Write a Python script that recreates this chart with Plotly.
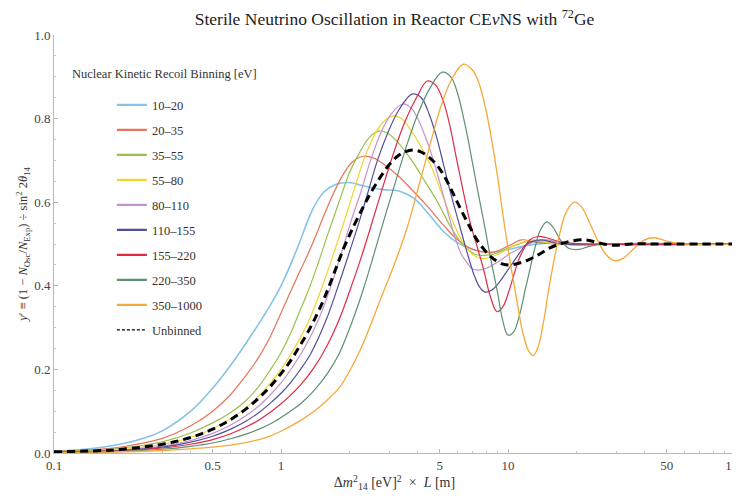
import plotly.graph_objects as go

# ---- data ----
labels = ["10\u201320", "20\u201335", "35\u201355", "55\u201380", "80\u2013110",
          "110\u2013155", "155\u2013220", "220\u2013350", "350\u20131000", "Unbinned"]

x_10_20 = [0.1, 0.15, 0.2, 0.25, 0.3, 0.4, 0.5, 0.6, 0.7, 0.8, 0.9, 1.0, 1.1, 1.2, 1.3, 1.4, 1.55, 1.75, 2.0, 2.35, 2.8, 3.3, 3.9, 4.5, 5.2, 6.0, 7.0, 8.5, 10, 12, 15, 20, 30, 50, 100]
y_10_20 = [0.004, 0.011, 0.022, 0.036, 0.053, 0.10, 0.155, 0.21, 0.262, 0.31, 0.355, 0.40, 0.45, 0.50, 0.55, 0.59, 0.625, 0.643, 0.647, 0.638, 0.63, 0.627, 0.607, 0.57, 0.53, 0.503, 0.487, 0.48, 0.487, 0.496, 0.502, 0.498, 0.50, 0.50, 0.50]

x_20_35 = [0.1, 0.15, 0.2, 0.3, 0.4, 0.5, 0.6, 0.7, 0.8, 0.9, 1.0, 1.1, 1.2, 1.3, 1.4, 1.55, 1.7, 1.85, 2.05, 2.3, 2.55, 2.75, 3.25, 3.85, 4.5, 5.2, 6.0, 7.0, 8.5, 10, 11.5, 13, 16, 20, 30, 100]
y_20_35 = [0.003, 0.008, 0.015, 0.035, 0.065, 0.10, 0.14, 0.185, 0.23, 0.28, 0.335, 0.385, 0.43, 0.47, 0.51, 0.57, 0.62, 0.66, 0.695, 0.71, 0.706, 0.696, 0.665, 0.625, 0.585, 0.545, 0.51, 0.487, 0.48, 0.495, 0.51, 0.505, 0.50, 0.498, 0.50, 0.50]

x_35_55 = [0.1, 0.15, 0.2, 0.3, 0.4, 0.5, 0.6, 0.7, 0.8, 0.9, 1.0, 1.1, 1.2, 1.3, 1.45, 1.6, 1.8, 2.0, 2.2, 2.45, 2.69, 2.95, 3.25, 3.7, 4.25, 4.9, 5.6, 6.3, 7.2, 8.5, 10, 12, 14, 18, 25, 100]
y_35_55 = [0.003, 0.007, 0.012, 0.027, 0.048, 0.072, 0.097, 0.125, 0.16, 0.20, 0.24, 0.285, 0.335, 0.38, 0.45, 0.52, 0.60, 0.67, 0.715, 0.755, 0.77, 0.765, 0.745, 0.706, 0.655, 0.60, 0.54, 0.50, 0.475, 0.475, 0.49, 0.505, 0.505, 0.50, 0.50, 0.50]

x_55_80 = [0.1, 0.15, 0.2, 0.3, 0.4, 0.5, 0.6, 0.7, 0.8, 0.9, 1.0, 1.1, 1.2, 1.33, 1.5, 1.7, 1.9, 2.1, 2.31, 2.55, 2.8, 3.1, 3.4, 3.7, 4.1, 4.55, 5.0, 5.6, 6.3, 7.0, 7.7, 9.0, 11, 13, 16, 25, 100]
y_55_80 = [0.002, 0.005, 0.009, 0.021, 0.037, 0.058, 0.082, 0.108, 0.137, 0.168, 0.20, 0.235, 0.27, 0.318, 0.39, 0.475, 0.555, 0.63, 0.70, 0.755, 0.79, 0.806, 0.80, 0.775, 0.737, 0.69, 0.634, 0.565, 0.505, 0.475, 0.465, 0.475, 0.50, 0.51, 0.50, 0.50, 0.50]

x_80_110 = [0.1, 0.15, 0.2, 0.3, 0.4, 0.5, 0.6, 0.7, 0.8, 0.9, 1.0, 1.1, 1.2, 1.3, 1.46, 1.65, 1.85, 2.05, 2.25, 2.48, 2.75, 3.05, 3.43, 3.75, 4.0, 4.3, 4.6, 4.9, 5.2, 5.5, 5.85, 6.2, 6.6, 7.0, 7.6, 8.1, 9.2, 10.2, 11.3, 13, 14.8, 17, 25, 100]
y_80_110 = [0.002, 0.004, 0.007, 0.017, 0.03, 0.047, 0.067, 0.089, 0.113, 0.14, 0.168, 0.198, 0.23, 0.262, 0.318, 0.395, 0.48, 0.56, 0.625, 0.70, 0.765, 0.81, 0.835, 0.825, 0.80, 0.76, 0.715, 0.665, 0.615, 0.565, 0.515, 0.478, 0.455, 0.44, 0.438, 0.443, 0.46, 0.477, 0.49, 0.505, 0.51, 0.503, 0.50, 0.50]

x_110_155 = [0.1, 0.15, 0.2, 0.3, 0.4, 0.5, 0.6, 0.7, 0.8, 0.9, 1.0, 1.1, 1.2, 1.35, 1.58, 1.8, 2.0, 2.2, 2.42, 2.66, 2.95, 3.3, 3.79, 4.15, 4.5, 4.85, 5.2, 5.6, 6.15, 6.6, 7.1, 7.5, 7.93, 8.5, 9.2, 9.9, 10.5, 11.3, 12.1, 13.9, 15.5, 17, 25, 100]
y_110_155 = [0.002, 0.004, 0.006, 0.014, 0.026, 0.04, 0.057, 0.076, 0.097, 0.12, 0.143, 0.168, 0.195, 0.237, 0.318, 0.405, 0.48, 0.55, 0.625, 0.70, 0.765, 0.82, 0.859, 0.85, 0.81, 0.755, 0.69, 0.62, 0.54, 0.48, 0.425, 0.397, 0.385, 0.39, 0.41, 0.435, 0.455, 0.48, 0.50, 0.51, 0.505, 0.50, 0.50, 0.50]

x_155_220 = [0.1, 0.15, 0.2, 0.3, 0.4, 0.5, 0.6, 0.7, 0.8, 0.9, 1.0, 1.1, 1.22, 1.4, 1.6, 1.8, 2.0, 2.2, 2.45, 2.75, 3.1, 3.5, 3.95, 4.41, 4.8, 5.2, 5.56, 5.9, 6.3, 6.8, 7.3, 7.8, 8.35, 8.95, 9.5, 10.2, 10.8, 11.3, 12.5, 13.5, 14.8, 17, 22, 100]
y_155_220 = [0.001, 0.003, 0.005, 0.012, 0.021, 0.032, 0.046, 0.062, 0.079, 0.098, 0.118, 0.138, 0.163, 0.205, 0.258, 0.318, 0.385, 0.45, 0.53, 0.62, 0.71, 0.79, 0.85, 0.89, 0.88, 0.84, 0.78, 0.71, 0.635, 0.553, 0.495, 0.44, 0.375, 0.338, 0.35, 0.395, 0.44, 0.47, 0.51, 0.518, 0.515, 0.505, 0.50, 0.50]

x_220_350 = [0.1, 0.15, 0.2, 0.3, 0.4, 0.5, 0.6, 0.7, 0.8, 0.9, 1.0, 1.1, 1.22, 1.4, 1.6, 1.8, 2.07, 2.3, 2.55, 2.85, 3.2, 3.6, 4.0, 4.5, 5.13, 5.6, 6.0, 6.5, 7.0, 7.4, 7.8, 8.35, 8.95, 9.5, 10.0, 10.6, 11.3, 11.9, 12.5, 13.2, 13.8, 14.8, 15.8, 17, 18.5, 20.5, 23, 27, 100]
y_220_350 = [0.001, 0.002, 0.004, 0.009, 0.016, 0.024, 0.034, 0.045, 0.057, 0.07, 0.085, 0.10, 0.118, 0.15, 0.19, 0.237, 0.318, 0.39, 0.47, 0.56, 0.65, 0.74, 0.81, 0.87, 0.911, 0.90, 0.86, 0.78, 0.69, 0.62, 0.557, 0.47, 0.39, 0.315, 0.282, 0.29, 0.335, 0.39, 0.44, 0.495, 0.53, 0.553, 0.54, 0.51, 0.49, 0.487, 0.495, 0.50, 0.50]

x_350_1000 = [0.1, 0.15, 0.2, 0.3, 0.4, 0.5, 0.6, 0.7, 0.8, 0.9, 1.0, 1.22, 1.4, 1.6, 1.8, 2.0, 2.25, 2.53, 2.8, 3.2, 3.6, 4.05, 4.55, 5.0, 5.6, 6.35, 7.0, 7.5, 8.0, 8.5, 9.0, 9.5, 10.2, 10.9, 11.6, 12.3, 12.9, 13.6, 14.3, 15.1, 16.0, 16.9, 18, 19.6, 21, 22.5, 24.5, 27, 29.5, 32, 36, 40, 44, 50, 60, 100]
y_350_1000 = [0.001, 0.002, 0.003, 0.006, 0.01, 0.014, 0.019, 0.025, 0.032, 0.041, 0.052, 0.078, 0.10, 0.127, 0.155, 0.195, 0.25, 0.318, 0.38, 0.46, 0.54, 0.64, 0.74, 0.82, 0.89, 0.93, 0.915, 0.88, 0.82, 0.745, 0.66, 0.57, 0.46, 0.37, 0.29, 0.245, 0.233, 0.255, 0.31, 0.39, 0.465, 0.525, 0.575, 0.60, 0.59, 0.56, 0.515, 0.475, 0.46, 0.465, 0.49, 0.51, 0.515, 0.507, 0.50, 0.50]

x_unbinned = [0.1, 0.15, 0.2, 0.3, 0.4, 0.5, 0.6, 0.7, 0.8, 0.9, 1.0, 1.1, 1.2, 1.3, 1.4, 1.55, 1.7, 1.89, 2.1, 2.31, 2.5, 2.74, 3.0, 3.26, 3.5, 3.8, 4.15, 4.55, 5.0, 5.39, 5.8, 6.3, 6.8, 7.3, 7.9, 8.6, 9.5, 10.3, 11.3, 12.5, 13.8, 15.2, 16.9, 19, 22, 25, 29, 35, 50, 100]
y_unbinned = [0.003, 0.005, 0.009, 0.021, 0.037, 0.057, 0.08, 0.105, 0.132, 0.16, 0.19, 0.22, 0.253, 0.285, 0.318, 0.37, 0.425, 0.49, 0.545, 0.59, 0.625, 0.66, 0.69, 0.71, 0.72, 0.725, 0.72, 0.705, 0.68, 0.65, 0.615, 0.575, 0.54, 0.51, 0.485, 0.465, 0.452, 0.45, 0.455, 0.464, 0.476, 0.49, 0.50, 0.507, 0.51, 0.503, 0.497, 0.50, 0.50, 0.50]

xs = [x_10_20, x_20_35, x_35_55, x_55_80, x_80_110, x_110_155, x_155_220, x_220_350, x_350_1000, x_unbinned]
ys = [y_10_20, y_20_35, y_35_55, y_55_80, y_80_110, y_110_155, y_155_220, y_220_350, y_350_1000, y_unbinned]

colors = ["#86c3e6", "#e8735a", "#98c04c", "#f5d430", "#c592d0",
          "#52509a", "#e02a45", "#5e9070", "#f6a93b", "#000000"]
widths = [1.6, 1.2, 1.2, 1.2, 1.2, 1.2, 1.2, 1.2, 1.3, 3.0]

x_tickvals = [0.1, 0.5, 1, 5, 10, 50, 100]
x_ticktext = ["0.1", "0.5", "1", "5", "10", "50", "100"]
x_minor = [0.2, 0.3, 0.4, 0.6, 0.7, 0.8, 0.9, 2, 3, 4, 6, 7, 8, 9, 20, 30, 40, 60, 70, 80, 90]

FONT = "Liberation Serif"

fig = go.Figure()
for i, (lab, x, y) in enumerate(zip(labels, xs, ys)):
    line = dict(color=colors[i], width=widths[i], shape="spline", smoothing=1.0)
    if lab == "Unbinned":
        line["dash"] = "8px,5px"
    fig.add_trace(go.Scatter(x=x, y=y, mode="lines", name=lab, line=line,
                             legendgroup="g%d" % i, showlegend=False))

# legend entries (legend-only, styled like the reference key)
for i, lab in enumerate(labels):
    if lab == "Unbinned":
        lline = dict(color=colors[i], width=1.3, dash="3px,2px")
    else:
        lline = dict(color=colors[i], width=2.2)
    fig.add_trace(go.Scatter(x=[None], y=[None], mode="lines", name=lab, line=lline,
                             legendgroup="g%d" % i, showlegend=True, hoverinfo="skip"))

# the page body adds an 8px offset; sizes chosen so the plot area matches the reference
fig.update_layout(
    width=740, height=491,
    margin=dict(l=46, r=13, t=27, b=46),
    paper_bgcolor="white", plot_bgcolor="white",
    font=dict(family=FONT, size=12, color="#333"),
    title=dict(text="Sterile Neutrino Oscillation in Reactor CE<i>\u03bd</i>NS with <sup>72</sup>Ge",
               x=0.5, xref="paper", xanchor="center", y=0.977, yanchor="middle", automargin=False,
               font=dict(family=FONT, size=17.5, color="#222")),
    showlegend=True,
    legend=dict(x=0.085, y=0.868, xanchor="left", yanchor="top",
                font=dict(family=FONT, size=12.5, color="#333"),
                tracegroupgap=5.75, bgcolor="rgba(0,0,0,0)", borderwidth=0),
    xaxis=dict(type="log", range=[-1, 2], showgrid=False, zeroline=False, automargin=False,
               showline=True, linecolor="#b8b8b8", linewidth=1,
               ticks="inside", ticklen=4, tickcolor="#b8b8b8",
               tickvals=x_tickvals, ticktext=x_ticktext, ticklabeloverflow="allow",
               minor=dict(tickvals=x_minor, ticks="inside", ticklen=2, tickcolor="#c8c8c8"),
               tickfont=dict(family=FONT, size=13, color="#444"),
               title=dict(text="\u0394<i>m</i><sup>2</sup><sub>14</sub> [eV]<sup>2</sup>  \u00d7  <i>L</i> [m]",
                          font=dict(family=FONT, size=14, color="#333"), standoff=5)),
    yaxis=dict(range=[0, 1], showgrid=False, zeroline=False, automargin=False,
               showline=True, linecolor="#b8b8b8", linewidth=1,
               ticks="inside", ticklen=4, tickcolor="#b8b8b8",
               dtick=0.2, tick0=0, tickformat=".1f", ticklabeloverflow="allow",
               minor=dict(dtick=0.05, ticks="inside", ticklen=2, tickcolor="#c8c8c8"),
               tickfont=dict(family=FONT, size=13, color="#444"),
               title=dict(text="<i>y</i>\u2032 \u2261 (1 \u2212 <i>N</i><sub>Osc</sub>/<i>N</i><sub>Exp</sub>) \u00f7 sin<sup>2</sup> 2<i>\u03b8</i><sub>14</sub>",
                          font=dict(family=FONT, size=12.5, color="#333"), standoff=3)),
    annotations=[dict(text="Nuclear Kinetic Recoil Binning [eV]", xref="paper", yref="paper",
                      x=0.023, y=0.907, xanchor="left", yanchor="middle", showarrow=False,
                      font=dict(family=FONT, size=12.5, color="#333"))],
)

fig.write_html("out.html")
